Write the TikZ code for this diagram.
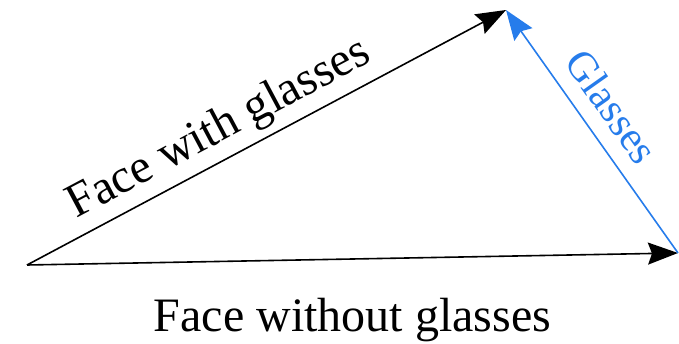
\documentclass[tikz,border=0pt]{standalone}
\usepackage{fontspec}
\setmainfont{Liberation Serif}
\definecolor{glassblue}{RGB}{38,124,235}
\usetikzlibrary{arrows.meta,positioning}

\begin{document}
\begin{tikzpicture}[x=1pt,y=-1pt,
  vec/.style={line width=1.6pt,-{Stealth[length=30pt,width=22pt,inset=4pt]}},
  lbl/.style={font=\fontsize{48}{52}\selectfont}]
  \useasboundingbox (0,0) rectangle (679,344);
  % Vector end points
  \coordinate (origin) at (27,265);
  \coordinate (withg) at (506,10);
  \coordinate (nog) at (678,253);

  % Vectors
  \draw[vec] (origin) -- node[lbl,sloped,pos=0.43,above=3pt] (withlbl) {Face with glasses} (withg);
  \draw[vec] (origin) -- node[lbl,pos=0.5,below=35pt] (nolbl) {Face without glasses} (nog);
  \draw[vec,glassblue] (nog) -- node[lbl,font=\fontsize{42}{46}\selectfont,glassblue,sloped,pos=0.53,above=12pt] (glasslbl) {Glasses} (withg);
\end{tikzpicture}
\end{document}
